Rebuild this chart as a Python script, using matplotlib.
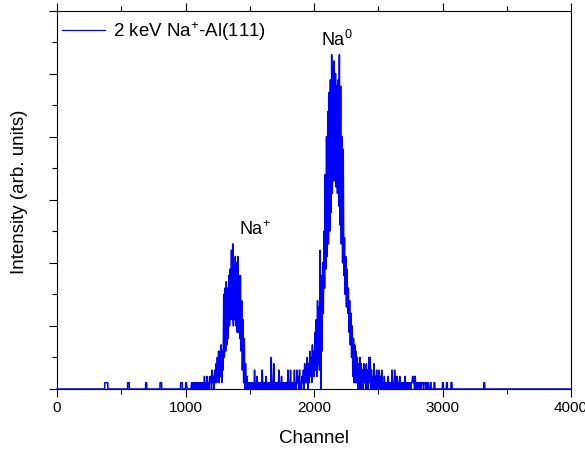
import numpy as np
import matplotlib.pyplot as plt
from matplotlib.lines import Line2D

plt.rcParams['font.family'] = ['Liberation Sans', 'DejaVu Sans']
plt.rcParams['mathtext.fontset'] = 'custom'
plt.rcParams['mathtext.rm'] = 'Liberation Sans'
plt.rcParams['mathtext.it'] = 'Liberation Sans:italic'
plt.rcParams['mathtext.default'] = 'regular'

# counts per 5-channel bin, from channel 1000 up to 2899
bin_start = 1000
bin_width = 5
bin_counts = [
    1, 1, 0, 0, 0, 0, 0, 0, 0, 1, 0, 1, 0, 1, 0, 1, 0, 1, 0, 1,               # 1000
    0, 1, 0, 1, 0, 1, 0, 1, 0, 2, 0, 1, 0, 2, 0, 1, 0, 2, 1, 2,               # 1100
    0, 3, 1, 2, 0, 3, 1, 4, 1, 5, 2, 6, 1, 6, 2, 7, 1, 6, 3, 15,              # 1200
    5, 16, 6, 17, 7, 16, 8, 18, 10, 19, 11, 22, 11, 23, 10, 19, 11, 21, 10, 20,  # 1300
    9, 21, 9, 18, 8, 18, 6, 14, 3, 11, 1, 8, 0, 4, 0, 2, 0, 1, 0, 1,          # 1400
    0, 1, 0, 1, 0, 1, 0, 3, 0, 1, 0, 2, 0, 1, 0, 1, 0, 1, 0, 3,               # 1500
    0, 1, 0, 1, 0, 2, 0, 1, 0, 1, 0, 1, 0, 5, 0, 1, 0, 4, 0, 1,               # 1600
    0, 1, 0, 1, 0, 3, 0, 1, 0, 2, 0, 1, 0, 1, 0, 1, 0, 1, 0, 3,               # 1700
    0, 1, 0, 3, 0, 1, 0, 1, 0, 3, 0, 1, 0, 3, 1, 2, 0, 3, 0, 1,               # 1800
    0, 2, 1, 3, 0, 4, 1, 3, 1, 5, 0, 4, 1, 6, 2, 5, 1, 7, 2, 6,               # 1900
    2, 9, 3, 11, 2, 14, 4, 13, 3, 22, 0, 18, 6, 20, 12, 25, 16, 34, 19, 40,   # 2000
    21, 44, 23, 47, 25, 49, 28, 53, 31, 51, 33, 52, 33, 50, 32, 48, 31, 49, 29, 53,  # 2100
    26, 48, 23, 40, 20, 38, 18, 24, 15, 21, 13, 19, 12, 16, 9, 14, 7, 12, 5, 10,     # 2200
    2, 8, 1, 7, 1, 6, 1, 5, 0, 4, 0, 5, 0, 4, 0, 3, 0, 4, 1, 3,               # 2300
    0, 4, 0, 3, 0, 5, 1, 5, 0, 3, 0, 2, 0, 4, 0, 2, 0, 3, 0, 2,               # 2400
    0, 3, 0, 2, 0, 3, 0, 1, 0, 2, 0, 1, 0, 1, 0, 2, 0, 1, 0, 1,               # 2500
    0, 3, 0, 1, 0, 3, 0, 2, 0, 2, 0, 1, 0, 2, 0, 1, 0, 1, 0, 1,               # 2600
    0, 2, 0, 1, 0, 1, 0, 1, 0, 1, 0, 1, 1, 2, 1, 2, 0, 2, 0, 1,               # 2700
    0, 1, 0, 1, 0, 1, 0, 1, 1, 1, 0, 1, 1, 1, 0, 1, 0, 1, 0, 0,               # 2800
]

# single counts in the flat background (first and last channel of each)
spike_first = [372, 550, 690, 802, 962, 2905, 2934, 3000, 3031, 3066, 3322]
spike_last = [395, 562, 698, 814, 975, 2911, 2940, 3006, 3037, 3074, 3328]

# flat background, every channel
channel = np.arange(0, 4001)
counts = np.zeros(channel.size)
for a, b in zip(spike_first, spike_last):
    counts[a:b + 1] = 1

# binned part, one point per bin centre
bin_end = bin_start + bin_width * len(bin_counts)
bin_ch = bin_start + bin_width * np.arange(len(bin_counts)) + bin_width / 2

x = np.concatenate([channel[:bin_start], bin_ch, channel[bin_end:]])
y = np.concatenate([counts[:bin_start], bin_counts, counts[bin_end:]])

fig = plt.figure(figsize=(5.85, 4.53), dpi=100)
ax = fig.add_axes([57 / 585, 1 - 389 / 453, (571 - 57) / 585, (389 - 10.5) / 453])

ax.plot(x, y, color='#0000ff', lw=1.1, zorder=3, clip_on=False)

ax.set_xlim(0, 4000)
ax.set_ylim(0, 60)
ax.set_xticks(range(0, 4001, 1000))
ax.set_xticks(range(500, 4000, 1000), minor=True)
ax.set_yticks(range(0, 61, 10))
ax.set_yticks(range(5, 60, 10), minor=True)
ax.tick_params(axis='x', which='both', direction='out', top=True, labeltop=False,
               labelsize=11, pad=3, width=0.8)
ax.tick_params(axis='y', which='both', direction='out', left=True, right=False,
               labelleft=False, width=0.8)
ax.tick_params(which='major', length=6)
ax.tick_params(which='minor', length=3.5)
for s in ax.spines.values():
    s.set_linewidth(0.8)

ax.set_xlabel('Channel', fontsize=13.5)
ax.set_ylabel('Intensity (arb. units)', fontsize=13.5)
ax.xaxis.set_label_coords(0.5, -0.108)
ax.yaxis.set_label_coords(-0.056, 0.52)

ax.text(1420, 24.4, 'Na$^{+}$', fontsize=13, va='baseline')
ax.text(2057, 54.4, 'Na$^{0}$', fontsize=13, va='baseline')

handle = Line2D([], [], color='#0000ff', lw=0.9)
ax.legend([handle], ['2 keV Na$^{+}$-Al(111)'], loc='upper left',
          bbox_to_anchor=(-0.008, 1.0), frameon=False, fontsize=13.5,
          handlelength=2.3, handletextpad=0.4, borderaxespad=0.3, borderpad=0.2)

fig.savefig('out.png', dpi=100)
